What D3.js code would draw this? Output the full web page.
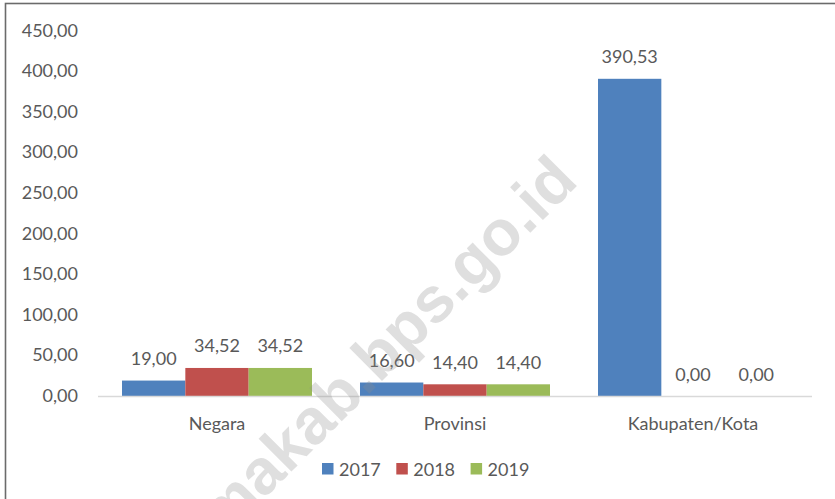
<!DOCTYPE html>
<html>
<head>
<meta charset="UTF-8" />
<style>
    body { margin: 0; padding: 0; background: #fff; }
    text { font-family: Lato, "Noto Sans", sans-serif; fill: #595959; }
</style>
<title>chart</title>
</head>
<body>
<svg width="835" height="499"></svg>
<script src="https://d3js.org/d3.v7.min.js"></script>
<script>
    // data
    const categories = ["Negara", "Provinsi", "Kabupaten/Kota"];
    const years = ["2017", "2018", "2019"];
    const v2017 = [19.00, 16.60, 390.53];
    const v2018 = [34.52, 14.40, 0.00];
    const v2019 = [34.52, 14.40, 0.00];
    const yTicks = [0, 50, 100, 150, 200, 250, 300, 350, 400, 450];
    const colors = ["#4f81bd", "#c0504d", "#9bbb59"];

    const seriesValues = [v2017, v2018, v2019];
    const rows = [];
    categories.forEach((c, i) => {
        years.forEach((yr, j) => rows.push({ cat: c, year: yr, value: seriesValues[j][i], s: j }))
    });

    const svg = d3.select("svg");
    const fmt = v => d3.format(".2f")(v).replace(".", ",");

    // chart frame (only top and left visible)
    svg.append("rect")
        .attr("x", 5.5).attr("y", 3.5)
        .attr("width", 900).attr("height", 600)
        .attr("fill", "none")
        .attr("stroke", "#6b6b6b")
        .attr("stroke-width", 1.6);

    const x = d3.scaleBand().domain(categories).range([98, 812]);
    const xs = d3.scaleBand().domain(years).range([24, 214]);
    const y = d3.scaleLinear().domain([0, 450]).range([396, 30.5]);

    // y tick labels
    svg.append("g").selectAll("text")
        .data(yTicks)
        .enter().append("text")
        .attr("x", 78)
        .attr("y", d => y(d) + 6)
        .attr("text-anchor", "end")
        .style("font-size", "18px")
        .text(fmt);

    // bars
    svg.append("g").selectAll("rect")
        .data(rows)
        .enter().append("rect")
        .attr("x", d => x(d.cat) + xs(d.year))
        .attr("y", d => y(d.value))
        .attr("width", xs.bandwidth())
        .attr("height", d => y(0) - y(d.value))
        .attr("fill", d => colors[d.s]);

    // data labels
    svg.append("g").selectAll("text")
        .data(rows)
        .enter().append("text")
        .attr("x", d => x(d.cat) + xs(d.year) + xs.bandwidth() / 2)
        .attr("y", d => y(d.value) - 15.5)
        .attr("text-anchor", "middle")
        .style("font-size", "18px")
        .text(d => fmt(d.value));

    // x axis line
    svg.append("line")
        .attr("x1", 98).attr("x2", 812)
        .attr("y1", y(0) + 0.5).attr("y2", y(0) + 0.5)
        .attr("stroke", "#d9d9d9")
        .attr("stroke-width", 1.5);

    // category labels
    svg.append("g").selectAll("text")
        .data(categories)
        .enter().append("text")
        .attr("x", d => x(d) + x.bandwidth() / 2)
        .attr("y", 430)
        .attr("text-anchor", "middle")
        .style("font-size", "18px")
        .text(d => d);

    // legend
    const legend = svg.append("g").selectAll("g")
        .data(years)
        .enter().append("g")
        .attr("transform", (d, i) => `translate(${322 + i * 74.3},463)`);
    legend.append("rect")
        .attr("width", 11.5).attr("height", 11.5)
        .attr("fill", (d, i) => colors[i]);
    legend.append("text")
        .attr("x", 17)
        .attr("y", 12.5)
        .style("font-size", "18px")
        .text(d => d);

    // watermark
    svg.append("text")
        .attr("transform", "translate(580,183) rotate(-45)")
        .attr("text-anchor", "end")
        .style("font-family", "'Liberation Sans', Arial, sans-serif")
        .style("font-weight", "bold")
        .style("font-size", "64px")
        .style("fill", "#8c8c8c")
        .style("fill-opacity", 0.28)
        .text("https://bimakab.bps.go.id");
</script>
</body>
</html>
